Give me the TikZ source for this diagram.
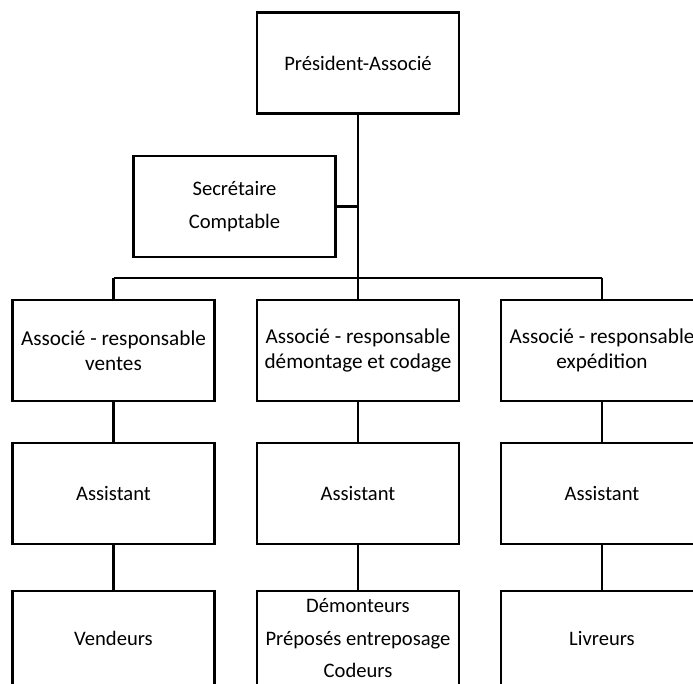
\documentclass[tikz,border=0pt]{standalone}
\usepackage{fontspec}
\setmainfont{Carlito}
\tikzset{
  box/.style={draw, line width=2.2pt, minimum width=202pt, minimum height=101pt,
    align=center, inner sep=0pt, font=\fontsize{20.6}{32.5}\selectfont},
  tight/.style={font=\fontsize{21.2}{24.5}\selectfont},
  link/.style={line width=2.2pt}
}
\begin{document}
\begin{tikzpicture}[x=1pt,y=-1pt]
\useasboundingbox (0,0) rectangle (693,684);
\clip (0,0) rectangle (693,684);
\node[box] (pres) at (358,63) {Président-Associé};
\node[box] (sec) at (234.5,206.5) {Secrétaire\\Comptable};
\coordinate (bus) at (358,278);
% associés
\node[box,tight] (ventes) at (113.5,350.5) {Associé - responsable\\ventes};
\node[box,tight] (demont) at (358,350.5) {Associé - responsable\\démontage et codage};
\node[box,tight] (exped) at (602,350.5) {Associé - responsable\\expédition};
% assistants
\node[box] (asv) at (113.5,493.5) {Assistant};
\node[box] (asd) at (358,493.5) {Assistant};
\node[box] (ase) at (602,493.5) {Assistant};
% employés
\node[box,minimum height=95pt] (vend) at (113.5,638.5) {Vendeurs};
\node[box,minimum height=95pt] (equipe) at (358,638.5) {Démonteurs\\Préposés entreposage\\Codeurs};
\node[box,minimum height=95pt] (livr) at (602,638.5) {Livreurs};
\draw[link] (pres.south) -- (bus);
\draw[link] (sec.east) -- (sec.east -| pres.south);
\draw[link] (bus -| ventes.north) -- (bus -| exped.north);
\foreach \a/\b/\c in {ventes/asv/vend, demont/asd/equipe, exped/ase/livr}{
  \draw[link] (\a.north) -- (\a.north |- bus);
  \draw[link] (\a) -- (\b);
  \draw[link] (\b) -- (\c);
}
\end{tikzpicture}
\end{document}
